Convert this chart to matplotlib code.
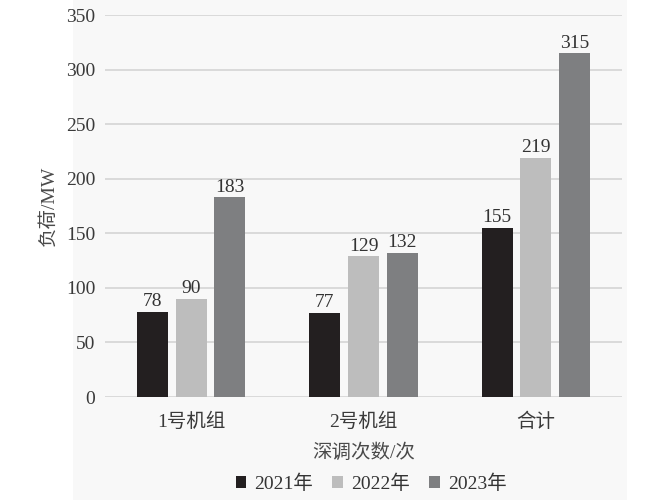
import numpy as np
import matplotlib
matplotlib.use('Agg')
import matplotlib.pyplot as plt
from matplotlib.patches import Rectangle

plt.rcParams['font.family'] = ['Liberation Serif', 'Noto Sans CJK SC']

categories = ['1号机组', '2号机组', '合计']
years = ['2021年', '2022年', '2023年']
v2021 = [78, 77, 155]
v2022 = [90, 129, 219]
v2023 = [183, 132, 315]
colors = ['#231f20', '#bdbdbd', '#7e7f81']

fig = plt.figure(figsize=(6.63, 5.04), dpi=100)
fig.patches.append(Rectangle((73/663, 4/504), (627-73)/663, 1-4/504, transform=fig.transFigure,
                             facecolor='#f8f8f8', edgecolor='none', zorder=-10))
ax = fig.add_axes([105/663, 1-397/504, (622-105)/663, (397-15)/504])
ax.set_facecolor('none')

x = np.arange(len(categories))
w = 0.18
step = 0.225
for i, (vals, lab) in enumerate(zip([v2021, v2022, v2023], years)):
    bars = ax.bar(x + (i-1)*step, vals, w, color=colors[i], label=lab, zorder=3)
    for b, v in zip(bars, vals):
        ax.text(b.get_x()+b.get_width()/2, v+1.5, str(v), ha='center', va='bottom',
                fontsize=14, color='#333333', zorder=4)

ax.set_ylim(0, 350)
ax.set_xlim(-0.5, 2.5)
ax.set_yticks(range(0, 351, 50))
ax.set_xticks(x)
ax.set_xticklabels(categories)
ax.yaxis.grid(True, color='#d4d4d4', lw=1.2)
ax.set_axisbelow(True)
for s in ax.spines.values():
    s.set_visible(False)
ax.tick_params(axis='both', length=0, labelsize=14, labelcolor='#3a3a3a')
ax.tick_params(axis='x', pad=11)
ax.tick_params(axis='y', pad=7)
ax.set_xlabel('深调次数/次', fontsize=14, color='#4a4a4a', labelpad=9)
ax.set_ylabel('负荷/MW', fontsize=14, color='#4a4a4a', labelpad=6)

leg = fig.legend(loc='center', bbox_to_anchor=(371/663, 1-484/504), ncol=3, frameon=False,
                 fontsize=14, handlelength=0.55, handleheight=0.55, handletextpad=0.4,
                 columnspacing=1.0)
for t in leg.get_texts():
    t.set_color('#333333')

fig.savefig('out.png', dpi=100, facecolor='white')
